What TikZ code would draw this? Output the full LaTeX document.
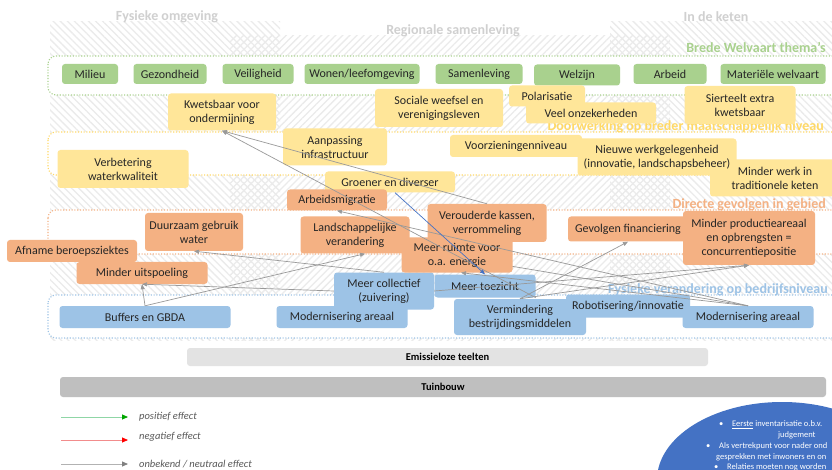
\documentclass[tikz,border=0pt]{standalone}
\usepackage{fontspec}
\setmainfont{Carlito}
\usetikzlibrary{patterns.meta,arrows.meta}
\definecolor{cGreen}{HTML}{A9D18E}
\definecolor{cYel}{HTML}{FFE699}
\definecolor{cYelT}{HTML}{FFD966}
\definecolor{cOr}{HTML}{F4B183}
\definecolor{cBlue}{HTML}{9DC3E6}
\definecolor{cHead}{HTML}{D0D0D0}
\definecolor{cHatch}{HTML}{EBEBEB}
\definecolor{cArr}{HTML}{999999}
\definecolor{cArrB}{HTML}{4472C4}
\definecolor{cText}{HTML}{262626}
\definecolor{cEll}{HTML}{4472C4}
\definecolor{cBarA}{HTML}{E3E3E3}
\definecolor{cBarB}{HTML}{BFBFBF}
\definecolor{cLeg}{HTML}{595959}
\definecolor{cLegG}{HTML}{8FD6A6}
\definecolor{cLegR}{HTML}{F28C8C}
\newcommand\mynf{\fontsize{12}{14}\selectfont}
\newcommand\myhf{\bfseries\fontsize{14}{16}\selectfont}
\tikzset{
 box/.style={rounded corners=3pt, inner sep=1pt, align=center, font=\mynf, text=cText},
 gbox/.style={box, fill=cGreen, minimum height=20pt},
 ybox/.style={box, fill=cYel},
 obox/.style={box, fill=cOr},
 bbox/.style={box, fill=cBlue},
 hdr/.style={font=\myhf, text=cHead, inner sep=0pt},
 ttl/.style={font=\myhf, inner sep=0pt, anchor=east},
 band/.style={rounded corners=8pt, fill=white, line width=1.1pt, dash pattern=on 1.1pt off 1.7pt},
 hatchA/.style={pattern={Lines[angle=-45,distance=5pt,line width=1.3pt]}, pattern color=cHatch},
 hatchB/.style={pattern={Lines[angle=45,distance=5pt,line width=1.3pt]}, pattern color=cHatch},
 neu/.style={draw=cArr, line width=0.7pt, -{Triangle[length=5pt,width=4pt]}},
 blu/.style={draw=cArrB, line width=0.7pt, -{Triangle[length=5pt,width=4pt]}},
 bar/.style={rounded corners=3pt, inner sep=0pt, font=\bfseries\fontsize{10.5}{12}\selectfont, text=black},
 leg/.style={font=\itshape\fontsize{10.5}{12}\selectfont, text=cLeg, anchor=west, inner sep=0pt},
 etxt/.style={font=\fontsize{8.5}{10}\selectfont, text=white, anchor=west, inner sep=0pt},
}
\begin{document}
\begin{tikzpicture}[x=1pt,y=-1pt]
\useasboundingbox (0,0) rectangle (832,470);
\clip (0,0) rectangle (832,470);
\fill[white] (0,0) rectangle (832,470);
% hatched columns
\path[hatchA] (50,22) rectangle (280,340);
\path[hatchB] (230,36) rectangle (670,340);
\path[hatchA] (610,22) rectangle (840,340);
% headers
\node[hdr] (h1) at (167,17) {Fysieke omgeving};
\node[hdr] (h2) at (453,31) {Regionale samenleving};
\node[hdr] (h3) at (716,17) {In de keten};
% bands
\draw[band, draw=cGreen] (48,56) rectangle (860,95);
\draw[band, draw=cYelT] (48,132) rectangle (860,175);
\draw[band, draw=cOr] (48,210) rectangle (860,254);
\draw[band, draw=cBlue] (48,295) rectangle (860,338);
% band titles
\node[ttl, text=cGreen] (t1) at (826,47) {Brede Welvaart thema’s};
\node[ttl, text=cYelT] (t2) at (824,127) {Doorwerking op breder maatschappelijk niveau};
\node[ttl, text=cOr] (t3) at (826,205) {Directe gevolgen in gebied};
\node[ttl, text=cBlue] (t4) at (828,290) {Fysieke verandering op bedrijfsniveau};
% blue nodes
\node[bbox, minimum width=171pt, minimum height=22pt] (buffers) at (145,317) {Buffers en GBDA};
\node[bbox, minimum width=131pt, minimum height=22pt] (modernL) at (342,317) {Modernisering areaal};
\node[bbox, minimum width=100pt, minimum height=37pt] (collectief) at (384,291) {Meer collectief\\(zuivering)};
\node[bbox, minimum width=101pt, minimum height=23pt] (toezicht) at (485,286) {Meer toezicht};
\node[bbox, minimum width=132pt, minimum height=36pt] (vermind) at (520,317) {Vermindering\\bestrijdingsmiddelen};
\node[bbox, minimum width=131pt, minimum height=22pt] (modernR) at (748,317) {Modernisering areaal};
\node[bbox, minimum width=124pt, minimum height=23pt] (robot) at (628,306) {Robotisering/innovatie};
% green nodes
\node[gbox, minimum width=56pt] (milieu) at (90,74) {Milieu};
\node[gbox, minimum width=73pt] (gezond) at (170,74) {Gezondheid};
\node[gbox, minimum width=71pt] (veilig) at (258,74) {Veiligheid};
\node[gbox, minimum width=115pt] (wonen) at (362,74) {Wonen/leefomgeving};
\node[gbox, minimum width=87pt] (samen) at (479,74) {Samenleving};
\node[gbox, minimum width=86pt, minimum height=21pt] (welzijn) at (577,75) {Welzijn};
\node[gbox, minimum width=73pt] (arbeid) at (670,74) {Arbeid};
\node[gbox, minimum width=105pt] (materieel) at (773,74) {Materiële welvaart};
% yellow nodes
\node[ybox, minimum width=108pt, minimum height=37pt] (kwets) at (222,112) {Kwetsbaar voor\\ondermijning};
\node[ybox, minimum width=128pt, minimum height=38pt] (sociaal) at (439,108) {Sociale weefsel en\\verenigingsleven};
\node[ybox, minimum width=76pt, minimum height=21pt] (polar) at (547,96) {Polarisatie};
\node[ybox, minimum width=130pt, minimum height=21pt] (onzeker) at (591,113) {Veel onzekerheden};
\node[ybox, minimum width=111pt, minimum height=38pt] (siert) at (740,105) {Sierteelt extra\\kwetsbaar};
\node[ybox, minimum width=104pt, minimum height=37pt] (infra) at (335,147) {Aanpassing\\infrastructuur};
\node[ybox, minimum width=131pt, minimum height=38pt] (water) at (123,169) {Verbetering\\waterkwaliteit};
\node[ybox, minimum width=132pt, minimum height=22pt] (voorz) at (516,146) {Voorzieningenniveau};
\node[ybox, minimum width=130pt, minimum height=37pt] (traditie) at (775,178) {Minder werk in\\traditionele keten};
\node[ybox, minimum width=159pt, minimum height=37pt] (werk) at (657,157) {Nieuwe werkgelegenheid\\(innovatie, landschapsbeheer)};
\node[ybox, minimum width=130pt, minimum height=21pt] (groener) at (390,182) {Groener en diverser};
% connector partly hidden behind orange nodes
\draw[neu] (modernR.north) -- (355,240);
% orange nodes
\node[obox, minimum width=100pt, minimum height=21pt] (migratie) at (337,200) {Arbeidsmigratie};
\node[obox, minimum width=98pt, minimum height=38pt] (duurzaam) at (194,232) {Duurzaam gebruik\\water};
\node[obox, minimum width=109pt, minimum height=37pt] (landschap) at (355,235) {Landschappelijke\\verandering};
\node[obox, minimum width=119pt, minimum height=38pt] (kassen) at (487,223) {Verouderde kassen,\\verrommeling};
\node[obox, minimum width=111pt, minimum height=35pt] (ruimte) at (457,255) {Meer ruimte voor\\o.a. energie};
\node[obox, minimum width=130pt, minimum height=22pt] (beroep) at (72,251) {Afname beroepsziektes};
\node[obox, minimum width=131pt, minimum height=22pt] (uitsp) at (142,273) {Minder uitspoeling};
\node[obox, minimum width=130pt, minimum height=25pt] (financ) at (633,229) {\hspace*{-10pt}Gevolgen financiering};
\node[obox, minimum width=132pt, minimum height=54pt] (productie) at (749,238) {Minder productieareaal\\en opbrengsten =\\concurrentiepositie};
% bars
\node[bar, fill=cBarA, minimum width=521pt, minimum height=18pt] (emis) at (447.5,357) {Emissieloze teelten};
\node[bar, fill=cBarB, minimum width=766pt, minimum height=20pt] (tuin) at (443,387) {Tuinbouw};
% connectors
\draw[neu] (toezicht.south east) -- (kwets.south);
\draw[neu] (kassen.north) -- (kwets.south);
\draw[neu] (modernR.north) -- (migratie.south);
\draw[neu] (modernR.north) -- ([xshift=4pt]ruimte.south);
\draw[neu] (buffers.north) -- (uitsp.south);
\draw[neu] (buffers.north) -- ([xshift=10pt]landschap.south);
\draw[neu] (collectief.north) -- (duurzaam.south);
\draw[neu] (collectief.west) -- (uitsp.south);
\draw[neu] (collectief.east) -- (productie.south);
\draw[neu] (vermind.north) -- (productie.south);
\draw[neu] (vermind.north) -- ([xshift=-5pt]financ.south);
\draw[blu] ([xshift=5pt]groener.south) -- (toezicht.north);
% legend
\coordinate (g1) at (61,417); \coordinate (g2) at (128,417);
\coordinate (r1) at (61,440); \coordinate (r2) at (128,440);
\coordinate (n1) at (61,464); \coordinate (n2) at (128,464);
\draw[draw=cLegG, line width=0.8pt, -{Triangle[length=6pt,width=5pt,color=green!65!black]}] (g1) -- (g2);
\draw[draw=cLegR, line width=0.8pt, -{Triangle[length=6pt,width=5pt,color=red]}] (r1) -- (r2);
\draw[draw=black!30, line width=0.8pt, -{Triangle[length=6pt,width=5pt,color=black!50]}] (n1) -- (n2);
\node[leg] (lg1) at (139,417) {positief effect};
\node[leg] (lg2) at (139,437) {negatief effect};
\node[leg] (lg3) at (139,464) {onbekend / neutraal effect};
% ellipse note
\fill[cEll] (782,480) ellipse [x radius=125pt, y radius=78pt];
\node[etxt] (e1) at (719,425) {\makebox[13pt][l]{•}\underline{Eerste} inventarisatie o.b.v.};
\node[etxt] (e2) at (778,435) {judgement};
\node[etxt] (e3) at (706,446) {\makebox[13pt][l]{•}Als vertrekpunt voor nader ond};
\node[etxt] (e4) at (716,457) {gesprekken met inwoners en on};
\node[etxt] (e5) at (714,467) {\makebox[13pt][l]{•}Relaties moeten nog worden};
\end{tikzpicture}
\end{document}
